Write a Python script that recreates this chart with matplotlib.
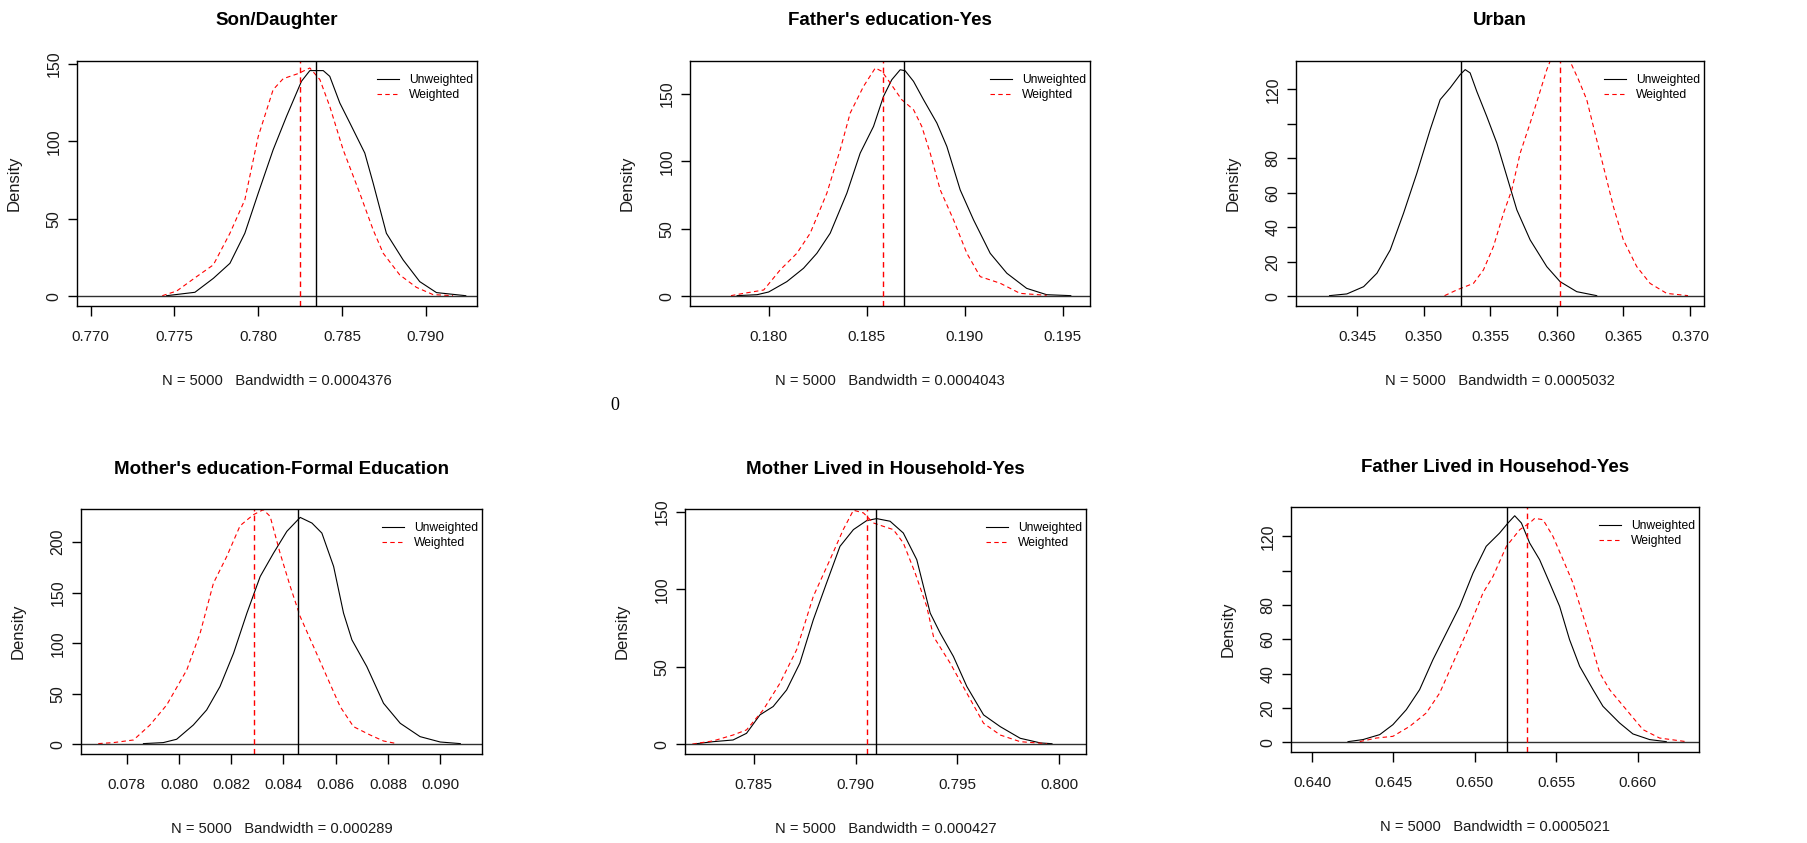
import matplotlib.pyplot as plt
from matplotlib.lines import Line2D

plt.rcParams['font.family'] = ['Liberation Sans', 'DejaVu Sans']

W, H = 1808, 843

# --- data (density curves, x / density) ---
son_unw_x = [0.77453, 0.77622, 0.77732, 0.77831, 0.77920, 0.78000, 0.78089, 0.78169, 0.78258, 0.78308,
             0.78388, 0.78427, 0.78487, 0.78547, 0.78636, 0.78686, 0.78765, 0.78865, 0.78964, 0.79064, 0.79239]
son_unw_y = [0.4, 2.6, 11.6, 21.3, 40.7, 66.6, 94.6, 116.2, 138.8, 145.7,
             145.7, 142.0, 124.8, 111.9, 92.5, 73.1, 40.7, 23.5, 9.5, 2.4, 0.4]
son_w_x = [0.77427, 0.77513, 0.77632, 0.77732, 0.77831, 0.77920, 0.78000, 0.78089, 0.78149, 0.78239, 0.78308,
           0.78368, 0.78427, 0.78507, 0.78606, 0.78686, 0.78746, 0.78845, 0.78944, 0.79044, 0.79163]
son_w_y = [0.4, 3.4, 12.7, 20.3, 40.7, 62.3, 103.2, 133.4, 140.5, 143.8, 147.4,
           139.9, 122.6, 94.6, 66.6, 42.9, 27.8, 13.8, 5.8, 1.1, 0.4]

fedu_unw_x = [0.17839, 0.17941, 0.18000, 0.18093, 0.18178, 0.18246, 0.18314, 0.18399, 0.18467, 0.18535,
              0.18586, 0.18628, 0.18671, 0.18696, 0.18739, 0.18790, 0.18858, 0.18909, 0.18977, 0.19045,
              0.19130, 0.19215, 0.19316, 0.19418, 0.19541]
fedu_unw_y = [0.5, 1.2, 3.2, 10.9, 20.8, 31.9, 46.8, 76.5, 106.2, 126.0,
              148.3, 160.6, 168.0, 167.3, 159.4, 145.8, 128.5, 111.1, 78.9, 56.7,
              31.9, 17.1, 5.9, 1.2, 0.5]
fedu_w_x = [0.17808, 0.17873, 0.17975, 0.18059, 0.18144, 0.18212, 0.18297, 0.18365, 0.18416, 0.18484,
            0.18544, 0.18578, 0.18620, 0.18679, 0.18739, 0.18781, 0.18824, 0.18875, 0.18943, 0.19011,
            0.19079, 0.19181, 0.19282, 0.19418]
fedu_w_y = [0.5, 2.2, 4.7, 19.6, 31.9, 46.8, 76.5, 108.7, 135.9, 155.7,
            169.3, 166.8, 158.2, 145.8, 138.4, 126.0, 106.2, 79.0, 56.7, 31.9,
            14.6, 9.7, 2.2, 0.7]

urban_unw_x = [0.34292, 0.34422, 0.34548, 0.34648, 0.34748, 0.34848, 0.34948, 0.35048, 0.35123, 0.35198,
               0.35273, 0.35311, 0.35348, 0.35398, 0.35473, 0.35549, 0.35624, 0.35699, 0.35799, 0.35924,
               0.36024, 0.36149, 0.36299]
urban_unw_y = [0.4, 1.4, 5.6, 13.4, 26.9, 48.2, 71.4, 96.6, 114.0, 120.8,
               128.5, 131.4, 129.5, 118.8, 104.3, 88.8, 69.5, 50.1, 32.7, 17.2,
               8.5, 2.7, 0.4]
urban_w_x = [0.35156, 0.35248, 0.35373, 0.35448, 0.35523, 0.35599, 0.35661, 0.35724, 0.35799, 0.35862,
             0.35924, 0.35974, 0.36037, 0.36087, 0.36162, 0.36224, 0.36299, 0.36362, 0.36424, 0.36499,
             0.36600, 0.36700, 0.36825, 0.36985]
urban_w_y = [0.4, 3.7, 7.5, 15.3, 28.8, 48.2, 61.7, 83.0, 100.4, 115.9,
             131.4, 141.1, 143.0, 138.2, 125.6, 114.0, 90.7, 71.4, 52.1, 32.7,
             17.2, 7.5, 1.7, 0.4]

medu_unw_x = [0.07864, 0.07940, 0.07991, 0.08055, 0.08106, 0.08157, 0.08209, 0.08260, 0.08311, 0.08362,
              0.08413, 0.08464, 0.08509, 0.08547, 0.08592, 0.08630, 0.08662, 0.08719, 0.08783, 0.08847,
              0.08923, 0.09000, 0.09077]
medu_unw_y = [0.7, 1.7, 5.0, 19.1, 34.0, 57.1, 90.1, 129.7, 166.0, 189.1,
              210.6, 224.4, 218.8, 208.9, 175.9, 129.7, 103.3, 76.9, 40.6, 20.8,
              7.6, 2.3, 0.7]
medu_w_x = [0.07691, 0.07749, 0.07826, 0.07889, 0.07953, 0.08030, 0.08081, 0.08132, 0.08183, 0.08234,
            0.08285, 0.08323, 0.08349, 0.08387, 0.08426, 0.08464, 0.08515, 0.08566, 0.08617, 0.08668,
            0.08732, 0.08783, 0.08834]
medu_w_y = [0.7, 1.7, 4.3, 19.1, 38.9, 73.6, 109.9, 159.4, 185.8, 216.2,
            227.1, 232.0, 225.4, 189.1, 156.1, 126.4, 96.7, 67.0, 37.3, 17.5,
            9.2, 3.3, 0.7]

mhh_unw_x = [0.78218, 0.78300, 0.78398, 0.78464, 0.78530, 0.78595, 0.78661, 0.78726, 0.78792, 0.78857,
             0.78923, 0.78989, 0.79054, 0.79103, 0.79169, 0.79234, 0.79300, 0.79366, 0.79415, 0.79480,
             0.79546, 0.79628, 0.79710, 0.79808, 0.79907, 0.79964]
mhh_unw_y = [0.4, 1.7, 2.8, 7.1, 19.0, 24.4, 35.1, 52.4, 80.4, 104.1,
             127.8, 138.6, 144.4, 145.7, 144.0, 136.4, 119.2, 84.7, 71.8, 56.7,
             37.3, 19.0, 11.4, 3.9, 0.9, 0.4]
mhh_w_x = [0.78198, 0.78300, 0.78398, 0.78464, 0.78546, 0.78628, 0.78710, 0.78792, 0.78874, 0.78939,
           0.78989, 0.79038, 0.79087, 0.79136, 0.79185, 0.79234, 0.79292, 0.79349, 0.79382, 0.79464,
           0.79546, 0.79628, 0.79710, 0.79808, 0.79939]
mhh_w_y = [0.2, 2.2, 6.0, 9.3, 22.2, 39.4, 61.0, 95.5, 119.2, 138.6,
           151.1, 149.4, 142.9, 140.7, 138.6, 130.0, 110.6, 89.0, 69.6, 52.4,
           33.0, 13.6, 6.0, 1.7, 0.4]

fhh_unw_x = [0.64221, 0.64313, 0.64416, 0.64497, 0.64579, 0.64661, 0.64743, 0.64825, 0.64907, 0.64989,
             0.65070, 0.65152, 0.65204, 0.65245, 0.65286, 0.65337, 0.65398, 0.65460, 0.65521, 0.65582,
             0.65644, 0.65726, 0.65787, 0.65889, 0.65971, 0.66074, 0.66176]
fhh_unw_y = [0.4, 1.6, 4.5, 10.3, 19.0, 30.7, 48.2, 63.7, 79.2, 98.6,
             114.2, 121.9, 127.8, 132.0, 127.8, 116.1, 106.4, 92.8, 79.2, 59.8,
             44.3, 30.7, 21.0, 11.3, 4.9, 1.6, 0.4]
fhh_w_x = [0.64293, 0.64395, 0.64497, 0.64600, 0.64702, 0.64784, 0.64866, 0.64948, 0.65009, 0.65050,
           0.65112, 0.65194, 0.65276, 0.65337, 0.65368, 0.65419, 0.65480, 0.65542, 0.65603, 0.65685,
           0.65767, 0.65828, 0.65931, 0.66033, 0.66135, 0.66299]
fhh_w_y = [0.4, 2.5, 3.5, 9.3, 17.1, 28.7, 46.2, 63.7, 77.3, 87.0,
           96.7, 114.2, 123.9, 127.8, 130.5, 129.7, 120.0, 106.4, 92.8, 67.6,
           40.4, 30.7, 19.0, 7.4, 2.5, 0.4]

# means (vertical lines): unweighted, weighted
son_means = (0.78342, 0.78250)
fedu_means = (0.18690, 0.18584)
urban_means = (0.35278, 0.36026)
medu_means = (0.08455, 0.08286)
mhh_means = (0.79102, 0.79056)
fhh_means = (0.65200, 0.65322)

titles = ["Son/Daughter", "Father's education-Yes", "Urban",
          "Mother's education-Formal Education", "Mother Lived in Household-Yes",
          "Father Lived in Househod-Yes"]
bandwidths = ["0.0004376", "0.0004043", "0.0005032", "0.000289", "0.000427", "0.0005021"]
n_draws = 5000

xticks = [[0.770, 0.775, 0.780, 0.785, 0.790],
          [0.180, 0.185, 0.190, 0.195],
          [0.345, 0.350, 0.355, 0.360, 0.365, 0.370],
          [0.078, 0.080, 0.082, 0.084, 0.086, 0.088, 0.090],
          [0.785, 0.790, 0.795, 0.800],
          [0.640, 0.645, 0.650, 0.655, 0.660]]
yticks = [[0, 50, 100, 150], [0, 50, 100, 150], [0, 20, 40, 60, 80, 100, 120],
          [0, 50, 100, 150, 200], [0, 50, 100, 150], [0, 20, 40, 60, 80, 100, 120]]
ytick_labels = [["0", "50", "100", "150"], ["0", "50", "100", "150"],
                ["0", "20", "40", "60", "80", "", "120"],
                ["0", "50", "100", "150", "200"], ["0", "50", "100", "150"],
                ["0", "20", "40", "60", "80", "", "120"]]

# --- layout: panel boxes in pixels (left, top, right, bottom) and limits ---
boxes = [(77, 61, 477, 306), (690, 61, 1090, 306), (1296, 61, 1704, 306),
         (81, 509, 482, 754), (685, 509, 1086, 754), (1291, 507, 1699, 752)]
xlims = [(0.76918, 0.79306), (0.17599, 0.19639), (0.34040, 0.37105),
         (0.07625, 0.09160), (0.78162, 0.80131), (0.63871, 0.66377)]
ylims = [(-6.25, 151.9), (-7.18, 174.5), (-5.6, 136.4),
         (-9.57, 232.7), (-6.25, 151.9), (-5.63, 137.1)]

curves = [(son_unw_x, son_unw_y, son_w_x, son_w_y, son_means),
          (fedu_unw_x, fedu_unw_y, fedu_w_x, fedu_w_y, fedu_means),
          (urban_unw_x, urban_unw_y, urban_w_x, urban_w_y, urban_means),
          (medu_unw_x, medu_unw_y, medu_w_x, medu_w_y, medu_means),
          (mhh_unw_x, mhh_unw_y, mhh_w_x, mhh_w_y, mhh_means),
          (fhh_unw_x, fhh_unw_y, fhh_w_x, fhh_w_y, fhh_means)]

DASH = (4, 3)
txt = '#1a1a1a'

fig = plt.figure(figsize=(W / 100, H / 100), dpi=100)

for i, (ux, uy, wx, wy, means) in enumerate(curves):
    left, top, right, bottom = boxes[i]
    w, h = right - left, bottom - top
    ax = fig.add_axes([left / W, 1 - bottom / H, w / W, h / H])

    ax.plot(ux, uy, color='black', lw=0.8)
    ax.plot(wx, wy, color='red', lw=0.8, dashes=DASH)
    ax.axhline(0, color='#303030', lw=1.0)
    ax.axvline(means[0], color='black', lw=1.0)
    ax.axvline(means[1], color='red', lw=1.0, dashes=DASH)

    ax.set_xlim(*xlims[i])
    ax.set_ylim(*ylims[i])
    ax.set_xticks(xticks[i])
    ax.set_xticklabels([f"{t:.3f}" for t in xticks[i]])
    ax.set_yticks(yticks[i])
    ax.set_yticklabels(ytick_labels[i], rotation=90, va='center')
    ax.tick_params(axis='x', direction='out', length=7, width=1, pad=10,
                   labelsize=11, labelcolor=txt)
    ax.tick_params(axis='y', direction='out', length=6.3, width=1, pad=5,
                   labelsize=11.5, labelcolor=txt)
    for s in ax.spines.values():
        s.set_linewidth(1.0)

    ax.text(0.5, 1 + 40 / h, titles[i], transform=ax.transAxes, ha='center',
            va='center', fontsize=13.5, fontweight='bold')
    ax.text(0.5, -75 / h, f"N = {n_draws}   Bandwidth = {bandwidths[i]}",
            transform=ax.transAxes, ha='center', va='center', fontsize=10.6, color=txt)
    ax.text(-55 / w, 0.5, "Density", transform=ax.transAxes, rotation=90,
            ha='right', va='center', fontsize=12, color=txt)

    handles = [Line2D([], [], color='black', lw=0.8),
               Line2D([], [], color='red', lw=0.8, dashes=DASH)]
    ax.legend(handles, ["Unweighted", "Weighted"], loc='upper right',
              bbox_to_anchor=(1 - 4 / w, 1 - 13 / h), frameon=False, fontsize=8.7,
              borderaxespad=0, borderpad=0, handlelength=1.8, handletextpad=0.85,
              labelspacing=0.25)

# stray label present in the source image
fig.text(615 / W, 1 - 406 / H, "0", family=['Liberation Serif', 'DejaVu Serif'],
         fontsize=13, ha='center', va='center')

fig.savefig("out.png", dpi=100)
